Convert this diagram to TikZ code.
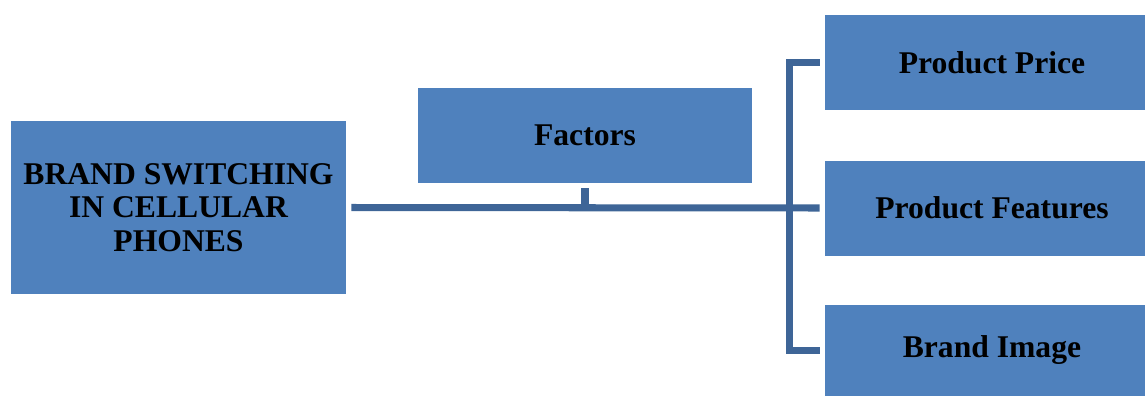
\documentclass[tikz,border=0pt]{standalone}
\usepackage{fontspec}
\setmainfont{Liberation Serif}
\usepackage{tikz}
\usetikzlibrary{positioning, calc}
\definecolor{boxblue}{HTML}{4F81BD}
\definecolor{linkblue}{HTML}{3E6597}
\tikzset{block/.style={fill=boxblue, draw=none, align=center, inner sep=0pt, font=\fontsize{18}{19}\selectfont\bfseries}}
\tikzset{link/.style={draw=linkblue, line width=4pt}}
\newcommand{\rpad}{\hspace*{0.28cm}}

\begin{document}
\begin{tikzpicture}[x=0.02cm, y=-0.02cm]
      \useasboundingbox (0,0) rectangle (1147,396);
      \node[block, minimum width=335*0.02cm, minimum height=173*0.02cm] (brand) at (178.5,207.5) {BRAND SWITCHING\\IN CELLULAR\\PHONES};
      \node[block, minimum width=334*0.02cm, minimum height=95*0.02cm] (factors) at (585,135.5) {Factors};

      \node[block, minimum width=320*0.02cm, minimum height=95*0.02cm] (price) at (985,62.5) {\rpad Product Price};
      \node[block, minimum width=320*0.02cm, minimum height=95*0.02cm] (features) at (985,208) {\rpad Product Features};
      \node[block, minimum width=320*0.02cm, minimum height=91*0.02cm] (image) at (985,350.5) {\rpad Brand Image};

      \draw[link, shorten <=5*0.02cm, shorten >=5*0.02cm] (brand.east) -- (features.west);
      \draw[link, shorten <=5*0.02cm] (factors.south) -- (factors.south |- brand.east);
      \draw[link, shorten <=5*0.02cm, shorten >=5*0.02cm] (price.west) -- ++(-35,0) |- (image.west);
    \end{tikzpicture}
\end{document}
